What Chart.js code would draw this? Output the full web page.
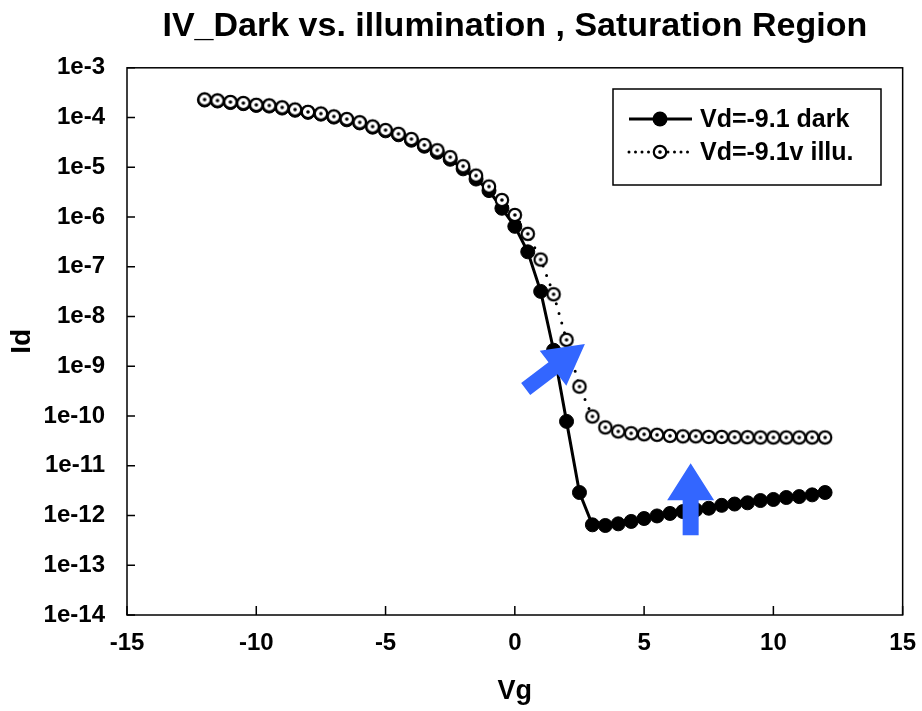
<!DOCTYPE html>
<html>
<head>
<meta charset="utf-8">
<script src="https://cdn.jsdelivr.net/npm/chart.js@4/dist/chart.umd.min.js"></script>
<style>
  html, body { margin: 0; padding: 0; background: #fff; }
</style>
</head>
<body>
<canvas id="ivChart" width="922" height="711"></canvas>
<script>
// gate voltage sweep, -12 .. 12 V in 0.5 V steps
const vg = [-12, -11.5, -11, -10.5, -10, -9.5, -9, -8.5, -8, -7.5, -7, -6.5, -6, -5.5, -5, -4.5, -4, -3.5, -3, -2.5, -2, -1.5, -1, -0.5,
  0, 0.5, 1, 1.5, 2, 2.5, 3, 3.5, 4, 4.5, 5, 5.5, 6, 6.5, 7, 7.5, 8, 8.5, 9, 9.5, 10, 10.5, 11, 11.5, 12];

// drain current in the dark
const idDark = [2.25e-4, 2.15e-4, 2.0e-4, 1.9e-4, 1.75e-4, 1.7e-4, 1.55e-4, 1.4e-4, 1.27e-4, 1.17e-4, 1.02e-4, 9.0e-5, 7.8e-5, 6.4e-5,
  5.4e-5, 4.5e-5, 3.5e-5, 2.65e-5, 2.0e-5, 1.45e-5, 9.3e-6, 5.8e-6, 3.4e-6, 1.5e-6,
  6.5e-7, 2.0e-7, 3.2e-8, 2.1e-9, 7.8e-11, 2.9e-12, 6.5e-13, 6.3e-13, 6.8e-13, 7.6e-13, 8.7e-13, 9.8e-13, 1.1e-12, 1.2e-12,
  1.3e-12, 1.4e-12, 1.6e-12, 1.7e-12, 1.8e-12, 2.0e-12, 2.1e-12, 2.3e-12, 2.4e-12, 2.6e-12, 2.9e-12];

// drain current under illumination
const idIllu = [2.3e-4, 2.2e-4, 2.05e-4, 1.95e-4, 1.8e-4, 1.75e-4, 1.6e-4, 1.45e-4, 1.3e-4, 1.2e-4, 1.05e-4, 9.3e-5, 8.0e-5, 6.6e-5,
  5.6e-5, 4.7e-5, 3.7e-5, 2.8e-5, 2.2e-5, 1.6e-5, 1.05e-5, 6.8e-6, 4.1e-6, 2.2e-6,
  1.1e-6, 4.6e-7, 1.4e-7, 2.8e-8, 3.4e-9, 3.9e-10, 9.8e-11, 5.9e-11, 4.9e-11, 4.5e-11, 4.3e-11, 4.2e-11, 4.0e-11, 3.9e-11,
  3.9e-11, 3.8e-11, 3.8e-11, 3.75e-11, 3.75e-11, 3.7e-11, 3.7e-11, 3.7e-11, 3.7e-11, 3.7e-11, 3.7e-11];

const xTicks = [-15, -10, -5, 0, 5, 10, 15];
const yTickValues = [1e-14, 1e-13, 1e-12, 1e-11, 1e-10, 1e-9, 1e-8, 1e-7, 1e-6, 1e-5, 1e-4, 1e-3];
const yTickLabels = ["1e-14", "1e-13", "1e-12", "1e-11", "1e-10", "1e-9", "1e-8", "1e-7", "1e-6", "1e-5", "1e-4", "1e-3"];

// blue annotation arrows, tail -> tip in data units
const arrows = [
  { from: [0.42, 3.5e-10], to: [2.71, 2.8e-9], shaft: 15, headW: 44, headL: 40 },
  { from: [6.8, 4.0e-13], to: [6.8, 1.12e-11], shaft: 16, headW: 47, headL: 37 }
];

const FONT = "'Liberation Sans', Arial, sans-serif";
const ARROW_BLUE = "#3366ff";

// open circle with a dot in the middle
function makeDotCircle(r) {
  const size = Math.ceil(2 * r + 5);
  const c = document.createElement("canvas");
  c.width = size; c.height = size;
  const g = c.getContext("2d");
  g.beginPath();
  g.arc(size / 2, size / 2, r, 0, Math.PI * 2);
  g.fillStyle = "#fff";
  g.fill();
  g.lineWidth = 2.2;
  g.strokeStyle = "#000";
  g.stroke();
  g.beginPath();
  g.arc(size / 2, size / 2, 1.8, 0, Math.PI * 2);
  g.fillStyle = "#000";
  g.fill();
  return c;
}
const dotCircle = makeDotCircle(6.2);

function drawArrow(ctx, x0, y0, x1, y1, shaft, headW, headL) {
  const ang = Math.atan2(y1 - y0, x1 - x0);
  const len = Math.hypot(x1 - x0, y1 - y0);
  ctx.save();
  ctx.translate(x0, y0);
  ctx.rotate(ang);
  ctx.beginPath();
  ctx.moveTo(0, -shaft / 2);
  ctx.lineTo(len - headL, -shaft / 2);
  ctx.lineTo(len - headL, -headW / 2);
  ctx.lineTo(len, 0);
  ctx.lineTo(len - headL, headW / 2);
  ctx.lineTo(len - headL, shaft / 2);
  ctx.lineTo(0, shaft / 2);
  ctx.closePath();
  ctx.fill();
  ctx.restore();
}

const decorations = {
  id: "decorations",
  afterDatasetsDraw(chart) {
    const ctx = chart.ctx;
    const xs = chart.scales.x, ys = chart.scales.y;
    ctx.save();
    ctx.fillStyle = ARROW_BLUE;
    arrows.forEach(a => {
      drawArrow(ctx,
        xs.getPixelForValue(a.from[0]), ys.getPixelForValue(a.from[1]),
        xs.getPixelForValue(a.to[0]), ys.getPixelForValue(a.to[1]),
        a.shaft, a.headW, a.headL);
    });
    ctx.restore();
  },
  afterDraw(chart) {
    const ctx = chart.ctx;
    const area = chart.chartArea;
    const xs = chart.scales.x, ys = chart.scales.y;
    ctx.save();
    // frame + inward ticks
    ctx.strokeStyle = "#000";
    ctx.lineWidth = 1.5;
    ctx.strokeRect(area.left, area.top, area.right - area.left, area.bottom - area.top);
    ctx.beginPath();
    ys.ticks.forEach(t => {
      const py = ys.getPixelForValue(t.value);
      ctx.moveTo(area.left, py);
      ctx.lineTo(area.left + 8, py);
    });
    xs.ticks.forEach(t => {
      const px = xs.getPixelForValue(t.value);
      ctx.moveTo(px, area.bottom);
      ctx.lineTo(px, area.bottom - 9);
    });
    ctx.stroke();

    // legend box
    const bx = 613, by = 89, bw = 268, bh = 96;
    ctx.fillStyle = "#fff";
    ctx.fillRect(bx, by, bw, bh);
    ctx.lineWidth = 1.5;
    ctx.strokeRect(bx, by, bw, bh);
    const rows = [119, 152];
    ctx.font = "bold 25px " + FONT;
    ctx.textBaseline = "middle";
    ctx.textAlign = "left";
    chart.data.datasets.forEach((ds, i) => {
      const ry = rows[i];
      ctx.strokeStyle = "#000";
      ctx.lineWidth = 3;
      ctx.lineCap = i === 0 ? "butt" : "round";
      ctx.setLineDash(i === 0 ? [] : [0, 6.5]);
      ctx.beginPath();
      ctx.moveTo(629, ry);
      ctx.lineTo(692, ry);
      ctx.stroke();
      ctx.setLineDash([]);
      if (i === 0) {
        ctx.beginPath();
        ctx.arc(660, ry, 7.5, 0, Math.PI * 2);
        ctx.fillStyle = "#000";
        ctx.fill();
      } else {
        ctx.drawImage(dotCircle, 660 - dotCircle.width / 2, ry - dotCircle.height / 2);
      }
      ctx.fillStyle = "#000";
      ctx.fillText(ds.label, 700, ry + 1);
    });
    ctx.restore();
  }
};

new Chart(document.getElementById("ivChart"), {
  type: "line",
  data: {
    datasets: [
      {
        label: "Vd=-9.1 dark",
        data: vg.map((v, i) => ({ x: v, y: idDark[i] })),
        borderColor: "#000",
        backgroundColor: "#000",
        borderWidth: 3,
        pointRadius: 7,
        pointBorderWidth: 1,
        pointStyle: "circle",
        tension: 0,
        order: 2
      },
      {
        label: "Vd=-9.1v illu.",
        data: vg.map((v, i) => ({ x: v, y: idIllu[i] })),
        borderColor: "#000",
        backgroundColor: "#fff",
        borderWidth: 3,
        borderDash: [0, 10],
        borderCapStyle: "round",
        pointStyle: dotCircle,
        pointRadius: 6,
        tension: 0,
        order: 1
      }
    ]
  },
  options: {
    responsive: false,
    animation: false,
    events: [],
    layout: { padding: { left: 0, right: 6, top: 0, bottom: 0 } },
    plugins: {
      legend: { display: false },
      tooltip: { enabled: false },
      title: {
        display: true,
        fullSize: false,
        text: "IV_Dark vs. illumination , Saturation Region",
        color: "#000",
        font: { family: FONT, size: 34, weight: "bold" },
        padding: { top: 6, bottom: 21 }
      }
    },
    scales: {
      x: {
        type: "linear",
        min: -15,
        max: 15,
        afterBuildTicks: s => { s.ticks = xTicks.map(v => ({ value: v })); },
        afterFit: s => { s.height = 96; },
        grid: { display: false },
        border: { display: false },
        ticks: {
          color: "#000",
          padding: 6,
          maxRotation: 0,
          autoSkip: false,
          font: { family: FONT, size: 24, weight: "bold" },
          callback: v => String(v)
        },
        title: {
          display: true,
          text: "Vg",
          color: "#000",
          font: { family: FONT, size: 27, weight: "bold" },
          padding: { top: 0, bottom: 3 }
        }
      },
      y: {
        type: "logarithmic",
        min: 1e-14,
        max: 1e-3,
        afterBuildTicks: s => { s.ticks = yTickValues.map(v => ({ value: v })); },
        afterFit: s => { s.width = 127; },
        grid: { display: false },
        border: { display: false },
        ticks: {
          color: "#000",
          padding: 14,
          autoSkip: false,
          font: { family: FONT, size: 24, weight: "bold" },
          callback: (v, i) => yTickLabels[i]
        },
        title: {
          display: true,
          text: "Id",
          color: "#000",
          font: { family: FONT, size: 28, weight: "bold" },
          padding: { top: 5, bottom: 0 }
        }
      }
    }
  },
  plugins: [decorations]
});
</script>
</body>
</html>
